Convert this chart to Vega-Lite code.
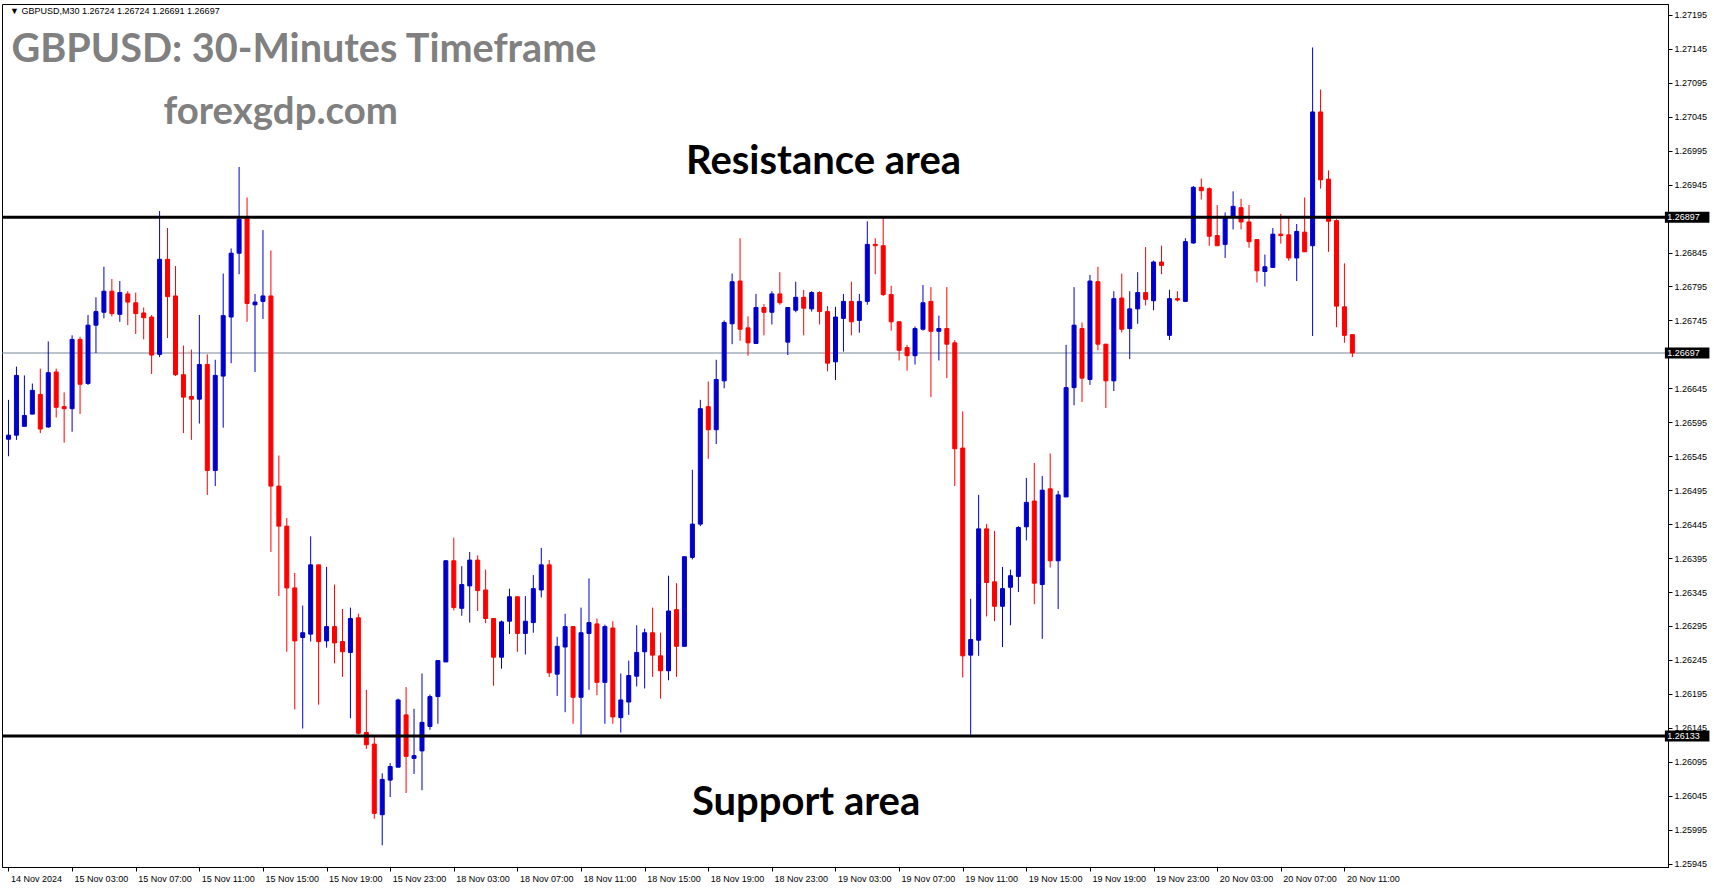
{
"$schema": "https://vega.github.io/schema/vega-lite/v6.json",
"width": 1666, "height": 863,
"autosize": {"type": "none"},
"padding": {"left": 2, "top": 4, "right": 46, "bottom": 21},
"background": "white",
"config": {"view": {"stroke": "black", "strokeWidth": 1}, "axis": {"labelOverlap": false, "labelFlush": false, "labelBound": false, "grid": false, "title": null}},
"datasets": {"candles": [
{"i":0,"o":1.26570,"h":1.26628,"l":1.26545,"c":1.26576},
{"i":1,"o":1.26576,"h":1.26677,"l":1.26569,"c":1.26664},
{"i":2,"o":1.26589,"h":1.26664,"l":1.26589,"c":1.26605},
{"i":3,"o":1.26607,"h":1.26652,"l":1.26607,"c":1.26642},
{"i":4,"o":1.26636,"h":1.26674,"l":1.26579,"c":1.26585},
{"i":5,"o":1.26588,"h":1.26714,"l":1.26587,"c":1.26668},
{"i":6,"o":1.26669,"h":1.26674,"l":1.26602,"c":1.26617},
{"i":7,"o":1.26618,"h":1.26639,"l":1.26565,"c":1.26615},
{"i":8,"o":1.26615,"h":1.26723,"l":1.26581,"c":1.26717},
{"i":9,"o":1.26717,"h":1.26721,"l":1.26607,"c":1.26651},
{"i":10,"o":1.26652,"h":1.26753,"l":1.26650,"c":1.26738},
{"i":11,"o":1.26738,"h":1.26779,"l":1.26697,"c":1.26758},
{"i":12,"o":1.26757,"h":1.26824,"l":1.26748,"c":1.26788},
{"i":13,"o":1.26788,"h":1.26806,"l":1.26751,"c":1.26755},
{"i":14,"o":1.26754,"h":1.26803,"l":1.26743,"c":1.26786},
{"i":15,"o":1.26784,"h":1.26788,"l":1.26738,"c":1.26772},
{"i":16,"o":1.26771,"h":1.26786,"l":1.26725,"c":1.26755},
{"i":17,"o":1.26756,"h":1.26764,"l":1.26717,"c":1.26749},
{"i":18,"o":1.26750,"h":1.26753,"l":1.26666,"c":1.26694},
{"i":19,"o":1.26695,"h":1.26906,"l":1.26691,"c":1.26835},
{"i":20,"o":1.26835,"h":1.26881,"l":1.26719,"c":1.26780},
{"i":21,"o":1.26781,"h":1.26825,"l":1.26663,"c":1.26665},
{"i":22,"o":1.26665,"h":1.26708,"l":1.26579,"c":1.26632},
{"i":23,"o":1.26633,"h":1.26702,"l":1.26569,"c":1.26629},
{"i":24,"o":1.26629,"h":1.26753,"l":1.26593,"c":1.26680},
{"i":25,"o":1.26680,"h":1.26695,"l":1.26488,"c":1.26524},
{"i":26,"o":1.26524,"h":1.26687,"l":1.26501,"c":1.26664},
{"i":27,"o":1.26663,"h":1.26814,"l":1.26587,"c":1.26752},
{"i":28,"o":1.26750,"h":1.26851,"l":1.26682,"c":1.26844},
{"i":29,"o":1.26844,"h":1.26971,"l":1.26813,"c":1.26894},
{"i":30,"o":1.26895,"h":1.26926,"l":1.26743,"c":1.26770},
{"i":31,"o":1.26768,"h":1.26784,"l":1.26669,"c":1.26772},
{"i":32,"o":1.26773,"h":1.26878,"l":1.26747,"c":1.26781},
{"i":33,"o":1.26781,"h":1.26848,"l":1.26404,"c":1.26501},
{"i":34,"o":1.26501,"h":1.26546,"l":1.26339,"c":1.26442},
{"i":35,"o":1.26442,"h":1.26454,"l":1.26257,"c":1.26351},
{"i":36,"o":1.26351,"h":1.26373,"l":1.26172,"c":1.26273},
{"i":37,"o":1.26278,"h":1.26325,"l":1.26144,"c":1.26285},
{"i":38,"o":1.26283,"h":1.26427,"l":1.26272,"c":1.26385},
{"i":39,"o":1.26385,"h":1.26385,"l":1.26179,"c":1.26272},
{"i":40,"o":1.26273,"h":1.26382,"l":1.26263,"c":1.26294},
{"i":41,"o":1.26294,"h":1.26356,"l":1.26240,"c":1.26270},
{"i":42,"o":1.26272,"h":1.26320,"l":1.26220,"c":1.26257},
{"i":43,"o":1.26256,"h":1.26322,"l":1.26159,"c":1.26306},
{"i":44,"o":1.26307,"h":1.26313,"l":1.26135,"c":1.26137},
{"i":45,"o":1.26138,"h":1.26201,"l":1.26114,"c":1.26120},
{"i":46,"o":1.26121,"h":1.26132,"l":1.26011,"c":1.26019},
{"i":47,"o":1.26017,"h":1.26078,"l":1.25972,"c":1.26069},
{"i":48,"o":1.26068,"h":1.26093,"l":1.26043,"c":1.26088},
{"i":49,"o":1.26087,"h":1.26188,"l":1.26087,"c":1.26186},
{"i":50,"o":1.26164,"h":1.26205,"l":1.26049,"c":1.26103},
{"i":51,"o":1.26100,"h":1.26173,"l":1.26077,"c":1.26104},
{"i":52,"o":1.26111,"h":1.26225,"l":1.26053,"c":1.26153},
{"i":53,"o":1.26147,"h":1.26194,"l":1.26142,"c":1.26191},
{"i":54,"o":1.26191,"h":1.26244,"l":1.26151,"c":1.26244},
{"i":55,"o":1.26242,"h":1.26392,"l":1.26242,"c":1.26391},
{"i":56,"o":1.26391,"h":1.26425,"l":1.26318,"c":1.26322},
{"i":57,"o":1.26321,"h":1.26383,"l":1.26310,"c":1.26356},
{"i":58,"o":1.26354,"h":1.26404,"l":1.26300,"c":1.26392},
{"i":59,"o":1.26392,"h":1.26399,"l":1.26317,"c":1.26347},
{"i":60,"o":1.26348,"h":1.26378,"l":1.26299,"c":1.26306},
{"i":61,"o":1.26306,"h":1.26306,"l":1.26207,"c":1.26249},
{"i":62,"o":1.26249,"h":1.26303,"l":1.26232,"c":1.26301},
{"i":63,"o":1.26302,"h":1.26350,"l":1.26283,"c":1.26338},
{"i":64,"o":1.26338,"h":1.26338,"l":1.26257,"c":1.26284},
{"i":65,"o":1.26284,"h":1.26339,"l":1.26253,"c":1.26302},
{"i":66,"o":1.26300,"h":1.26370,"l":1.26285,"c":1.26350},
{"i":67,"o":1.26348,"h":1.26410,"l":1.26337,"c":1.26385},
{"i":68,"o":1.26385,"h":1.26392,"l":1.26220,"c":1.26226},
{"i":69,"o":1.26224,"h":1.26279,"l":1.26192,"c":1.26265},
{"i":70,"o":1.26264,"h":1.26313,"l":1.26168,"c":1.26294},
{"i":71,"o":1.26294,"h":1.26294,"l":1.26151,"c":1.26190},
{"i":72,"o":1.26190,"h":1.26322,"l":1.26135,"c":1.26285},
{"i":73,"o":1.26284,"h":1.26365,"l":1.26201,"c":1.26300},
{"i":74,"o":1.26298,"h":1.26306,"l":1.26193,"c":1.26212},
{"i":75,"o":1.26212,"h":1.26297,"l":1.26151,"c":1.26294},
{"i":76,"o":1.26292,"h":1.26302,"l":1.26151,"c":1.26161},
{"i":77,"o":1.26160,"h":1.26225,"l":1.26138,"c":1.26186},
{"i":78,"o":1.26183,"h":1.26244,"l":1.26164,"c":1.26222},
{"i":79,"o":1.26221,"h":1.26296,"l":1.26206,"c":1.26256},
{"i":80,"o":1.26257,"h":1.26291,"l":1.26203,"c":1.26285},
{"i":81,"o":1.26285,"h":1.26322,"l":1.26220,"c":1.26252},
{"i":82,"o":1.26251,"h":1.26285,"l":1.26188,"c":1.26229},
{"i":83,"o":1.26229,"h":1.26369,"l":1.26215,"c":1.26317},
{"i":84,"o":1.26319,"h":1.26358,"l":1.26220,"c":1.26265},
{"i":85,"o":1.26265,"h":1.26397,"l":1.26265,"c":1.26397},
{"i":86,"o":1.26396,"h":1.26525,"l":1.26393,"c":1.26445},
{"i":87,"o":1.26445,"h":1.26628,"l":1.26442,"c":1.26615},
{"i":88,"o":1.26618,"h":1.26655,"l":1.26541,"c":1.26584},
{"i":89,"o":1.26584,"h":1.26687,"l":1.26563,"c":1.26658},
{"i":90,"o":1.26656,"h":1.26745,"l":1.26645,"c":1.26742},
{"i":91,"o":1.26740,"h":1.26814,"l":1.26710,"c":1.26802},
{"i":92,"o":1.26803,"h":1.26866,"l":1.26715,"c":1.26732},
{"i":93,"o":1.26734,"h":1.26751,"l":1.26693,"c":1.26712},
{"i":94,"o":1.26711,"h":1.26784,"l":1.26711,"c":1.26764},
{"i":95,"o":1.26764,"h":1.26769,"l":1.26723,"c":1.26757},
{"i":96,"o":1.26757,"h":1.26788,"l":1.26739,"c":1.26784},
{"i":97,"o":1.26784,"h":1.26816,"l":1.26768,"c":1.26771},
{"i":98,"o":1.26713,"h":1.26764,"l":1.26694,"c":1.26764},
{"i":99,"o":1.26760,"h":1.26802,"l":1.26757,"c":1.26779},
{"i":100,"o":1.26779,"h":1.26790,"l":1.26723,"c":1.26763},
{"i":101,"o":1.26762,"h":1.26788,"l":1.26758,"c":1.26786},
{"i":102,"o":1.26786,"h":1.26788,"l":1.26739,"c":1.26758},
{"i":103,"o":1.26758,"h":1.26766,"l":1.26670,"c":1.26682},
{"i":104,"o":1.26684,"h":1.26765,"l":1.26657,"c":1.26750},
{"i":105,"o":1.26748,"h":1.26784,"l":1.26699,"c":1.26773},
{"i":106,"o":1.26773,"h":1.26802,"l":1.26723,"c":1.26743},
{"i":107,"o":1.26745,"h":1.26784,"l":1.26727,"c":1.26773},
{"i":108,"o":1.26773,"h":1.26891,"l":1.26768,"c":1.26857},
{"i":109,"o":1.26857,"h":1.26866,"l":1.26813,"c":1.26855},
{"i":110,"o":1.26855,"h":1.26897,"l":1.26781,"c":1.26783},
{"i":111,"o":1.26783,"h":1.26796,"l":1.26730,"c":1.26743},
{"i":112,"o":1.26743,"h":1.26743,"l":1.26686,"c":1.26701},
{"i":113,"o":1.26705,"h":1.26709,"l":1.26671,"c":1.26693},
{"i":114,"o":1.26693,"h":1.26736,"l":1.26680,"c":1.26733},
{"i":115,"o":1.26732,"h":1.26797,"l":1.26730,"c":1.26771},
{"i":116,"o":1.26773,"h":1.26794,"l":1.26632,"c":1.26729},
{"i":117,"o":1.26729,"h":1.26752,"l":1.26686,"c":1.26733},
{"i":118,"o":1.26733,"h":1.26794,"l":1.26660,"c":1.26710},
{"i":119,"o":1.26712,"h":1.26716,"l":1.26501,"c":1.26556},
{"i":120,"o":1.26557,"h":1.26611,"l":1.26219,"c":1.26251},
{"i":121,"o":1.26252,"h":1.26335,"l":1.26135,"c":1.26275},
{"i":122,"o":1.26274,"h":1.26488,"l":1.26251,"c":1.26438},
{"i":123,"o":1.26438,"h":1.26445,"l":1.26309,"c":1.26359},
{"i":124,"o":1.26360,"h":1.26435,"l":1.26302,"c":1.26324},
{"i":125,"o":1.26324,"h":1.26382,"l":1.26264,"c":1.26350},
{"i":126,"o":1.26352,"h":1.26378,"l":1.26296,"c":1.26369},
{"i":127,"o":1.26368,"h":1.26442,"l":1.26345,"c":1.26440},
{"i":128,"o":1.26441,"h":1.26513,"l":1.26421,"c":1.26477},
{"i":129,"o":1.26479,"h":1.26535,"l":1.26327,"c":1.26358},
{"i":130,"o":1.26356,"h":1.26516,"l":1.26276,"c":1.26495},
{"i":131,"o":1.26497,"h":1.26549,"l":1.26381,"c":1.26391},
{"i":132,"o":1.26391,"h":1.26494,"l":1.26320,"c":1.26488},
{"i":133,"o":1.26485,"h":1.26709,"l":1.26485,"c":1.26646},
{"i":134,"o":1.26646,"h":1.26794,"l":1.26620,"c":1.26738},
{"i":135,"o":1.26733,"h":1.26742,"l":1.26625,"c":1.26660},
{"i":136,"o":1.26658,"h":1.26812,"l":1.26650,"c":1.26803},
{"i":137,"o":1.26802,"h":1.26824,"l":1.26701,"c":1.26710},
{"i":138,"o":1.26710,"h":1.26710,"l":1.26616,"c":1.26656},
{"i":139,"o":1.26656,"h":1.26788,"l":1.26641,"c":1.26777},
{"i":140,"o":1.26778,"h":1.26814,"l":1.26727,"c":1.26732},
{"i":141,"o":1.26733,"h":1.26788,"l":1.26688,"c":1.26762},
{"i":142,"o":1.26762,"h":1.26816,"l":1.26740,"c":1.26786},
{"i":143,"o":1.26786,"h":1.26853,"l":1.26767,"c":1.26776},
{"i":144,"o":1.26774,"h":1.26833,"l":1.26760,"c":1.26831},
{"i":145,"o":1.26831,"h":1.26855,"l":1.26813,"c":1.26826},
{"i":146,"o":1.26723,"h":1.26790,"l":1.26716,"c":1.26777},
{"i":147,"o":1.26777,"h":1.26788,"l":1.26773,"c":1.26775},
{"i":148,"o":1.26773,"h":1.26866,"l":1.26773,"c":1.26861},
{"i":149,"o":1.26859,"h":1.26943,"l":1.26858,"c":1.26941},
{"i":150,"o":1.26941,"h":1.26954,"l":1.26923,"c":1.26936},
{"i":151,"o":1.26939,"h":1.26941,"l":1.26855,"c":1.26869},
{"i":152,"o":1.26870,"h":1.26915,"l":1.26855,"c":1.26855},
{"i":153,"o":1.26857,"h":1.26904,"l":1.26837,"c":1.26896},
{"i":154,"o":1.26897,"h":1.26935,"l":1.26879,"c":1.26913},
{"i":155,"o":1.26911,"h":1.26924,"l":1.26879,"c":1.26890},
{"i":156,"o":1.26890,"h":1.26915,"l":1.26852,"c":1.26861},
{"i":157,"o":1.26864,"h":1.26864,"l":1.26801,"c":1.26818},
{"i":158,"o":1.26817,"h":1.26842,"l":1.26795,"c":1.26824},
{"i":159,"o":1.26823,"h":1.26881,"l":1.26823,"c":1.26872},
{"i":160,"o":1.26872,"h":1.26902,"l":1.26858,"c":1.26870},
{"i":161,"o":1.26871,"h":1.26896,"l":1.26833,"c":1.26837},
{"i":162,"o":1.26837,"h":1.26887,"l":1.26803,"c":1.26876},
{"i":163,"o":1.26875,"h":1.26926,"l":1.26846,"c":1.26846},
{"i":164,"o":1.26855,"h":1.27147,"l":1.26722,"c":1.27052},
{"i":165,"o":1.27052,"h":1.27085,"l":1.26939,"c":1.26952},
{"i":166,"o":1.26953,"h":1.26966,"l":1.26846,"c":1.26891},
{"i":167,"o":1.26892,"h":1.26894,"l":1.26735,"c":1.26766},
{"i":168,"o":1.26765,"h":1.26829,"l":1.26712,"c":1.26723},
{"i":169,"o":1.26724,"h":1.26724,"l":1.26691,"c":1.26697}
]},
"layer": [
{"data": {"values": [{"p": 1.26697}]},
 "mark": {"type": "rule", "color": "#778899", "strokeWidth": 1},
 "encoding": {"y": {"field": "p", "type": "quantitative", "title": null,
   "scale": {"domain": [1.2594, 1.27211], "nice": false, "zero": false},
   "axis": {"orient": "right", "tickCount": 60,
    "values": [1.25945,1.25995,1.26045,1.26095,1.26145,1.26195,1.26245,1.26295,1.26345,1.26395,1.26445,1.26495,1.26545,1.26595,1.26645,1.26745,1.26795,1.26845,1.26945,1.26995,1.27045,1.27095,1.27145,1.27195],
    "format": ".5f", "labelFont": "Liberation Sans", "labelFontSize": 9, "labelColor": "black",
    "labelPadding": 2, "tickColor": "black", "tickSize": 4, "domainColor": "black", "grid": false,
    "labelOverlap": false, "labelFlush": false, "labelBaseline": "middle", "title": null}}}},
{"data": {"name": "candles"},
 "mark": {"type": "rule", "strokeWidth": 1},
 "encoding": {
  "x": {"field": "i", "type": "quantitative", "title": null,
   "scale": {"domain": [-0.1875, 208.0625], "nice": false, "zero": false},
   "axis": {"values": [0,8,16,24,32,40,48,56,64,72,80,88,96,104,112,120,128,136,144,152,160,168],
    "tickCount": 60,
    "labelExpr": "['14 Nov 2024','15 Nov 03:00','15 Nov 07:00','15 Nov 11:00','15 Nov 15:00','15 Nov 19:00','15 Nov 23:00','18 Nov 03:00','18 Nov 07:00','18 Nov 11:00','18 Nov 15:00','18 Nov 19:00','18 Nov 23:00','19 Nov 03:00','19 Nov 07:00','19 Nov 11:00','19 Nov 15:00','19 Nov 19:00','19 Nov 23:00','20 Nov 03:00','20 Nov 07:00','20 Nov 11:00'][round(datum.value/8)]",
    "labelAlign": "left", "labelBaseline": "top", "labelOffset": 2, "labelPadding": 3,
    "labelFont": "Liberation Sans", "labelFontSize": 9, "labelColor": "black",
    "tickColor": "black", "tickSize": 4, "domainColor": "black", "grid": false,
    "labelOverlap": false, "labelFlush": false, "title": null}},
  "y": {"field": "l", "type": "quantitative", "title": null},
  "y2": {"field": "h"},
  "color": {"condition": {"test": "datum.c > datum.o", "value": "#0000cd"}, "value": "#ff0000"}}},
{"data": {"name": "candles"},
 "mark": {"type": "bar", "width": 4, "strokeWidth": 1},
 "encoding": {
  "x": {"field": "i", "type": "quantitative", "title": null},
  "y": {"field": "o", "type": "quantitative", "title": null},
  "y2": {"field": "c"},
  "color": {"condition": {"test": "datum.c > datum.o", "value": "#0000cd"}, "value": "#ff0000"},
  "stroke": {"condition": {"test": "datum.c > datum.o", "value": "#0000cd"}, "value": "#ff0000"}}},
{"data": {"values": [{"p": 1.26897}, {"p": 1.26133}]},
 "mark": {"type": "rule", "color": "black", "strokeWidth": 3},
 "encoding": {"y": {"field": "p", "type": "quantitative", "title": null}}},
{"data": {"values": [{"p": 1.26897, "lab": "1.26897"}, {"p": 1.26697, "lab": "1.26697"}, {"p": 1.26133, "lab": "1.26133"}]},
 "mark": {"type": "rule", "color": "black", "strokeWidth": 11},
 "encoding": {"x": {"datum": 208.3}, "x2": {"datum": 213.9}, "y": {"field": "p", "type": "quantitative", "title": null}}},
{"data": {"values": [{"p": 1.26897, "lab": "1.26897"}, {"p": 1.26697, "lab": "1.26697"}, {"p": 1.26133, "lab": "1.26133"}]},
 "mark": {"type": "text", "color": "white", "font": "Liberation Sans", "fontSize": 9, "align": "left", "baseline": "middle"},
 "encoding": {"x": {"datum": 208.6}, "y": {"field": "p", "type": "quantitative", "title": null}, "text": {"field": "lab"}}},
{"data": {"values": [{"t": "\u25bc GBPUSD,M30  1.26724 1.26724 1.26691 1.26697"}]},
 "mark": {"type": "text", "color": "black", "font": "Liberation Sans", "fontSize": 9, "align": "left", "baseline": "middle"},
 "encoding": {"x": {"datum": 0.2}, "y": {"datum": 1.27201}, "text": {"field": "t"}}},
{"data": {"values": [{"t": "GBPUSD: 30-Minutes Timeframe"}]},
 "mark": {"type": "text", "color": "#808080", "font": "Lato", "fontWeight": "bold", "fontSize": 39.6, "align": "left", "baseline": "alphabetic"},
 "encoding": {"x": {"datum": 0.38}, "y": {"datum": 1.27125}, "text": {"field": "t"}}},
{"data": {"values": [{"t": "forexgdp.com"}]},
 "mark": {"type": "text", "color": "#808080", "font": "Lato", "fontWeight": "bold", "fontSize": 38.4, "align": "left", "baseline": "alphabetic"},
 "encoding": {"x": {"datum": 19.5}, "y": {"datum": 1.27035}, "text": {"field": "t"}}},
{"data": {"values": [{"t": "Resistance area"}]},
 "mark": {"type": "text", "color": "black", "font": "Lato", "fontWeight": "bold", "fontSize": 40, "align": "center", "baseline": "alphabetic"},
 "encoding": {"x": {"datum": 102.5}, "y": {"datum": 1.26961}, "text": {"field": "t"}}},
{"data": {"values": [{"t": "Support area"}]},
 "mark": {"type": "text", "color": "black", "font": "Lato", "fontWeight": "bold", "fontSize": 40, "align": "center", "baseline": "alphabetic"},
 "encoding": {"x": {"datum": 100.3}, "y": {"datum": 1.26017}, "text": {"field": "t"}}}
]
}
